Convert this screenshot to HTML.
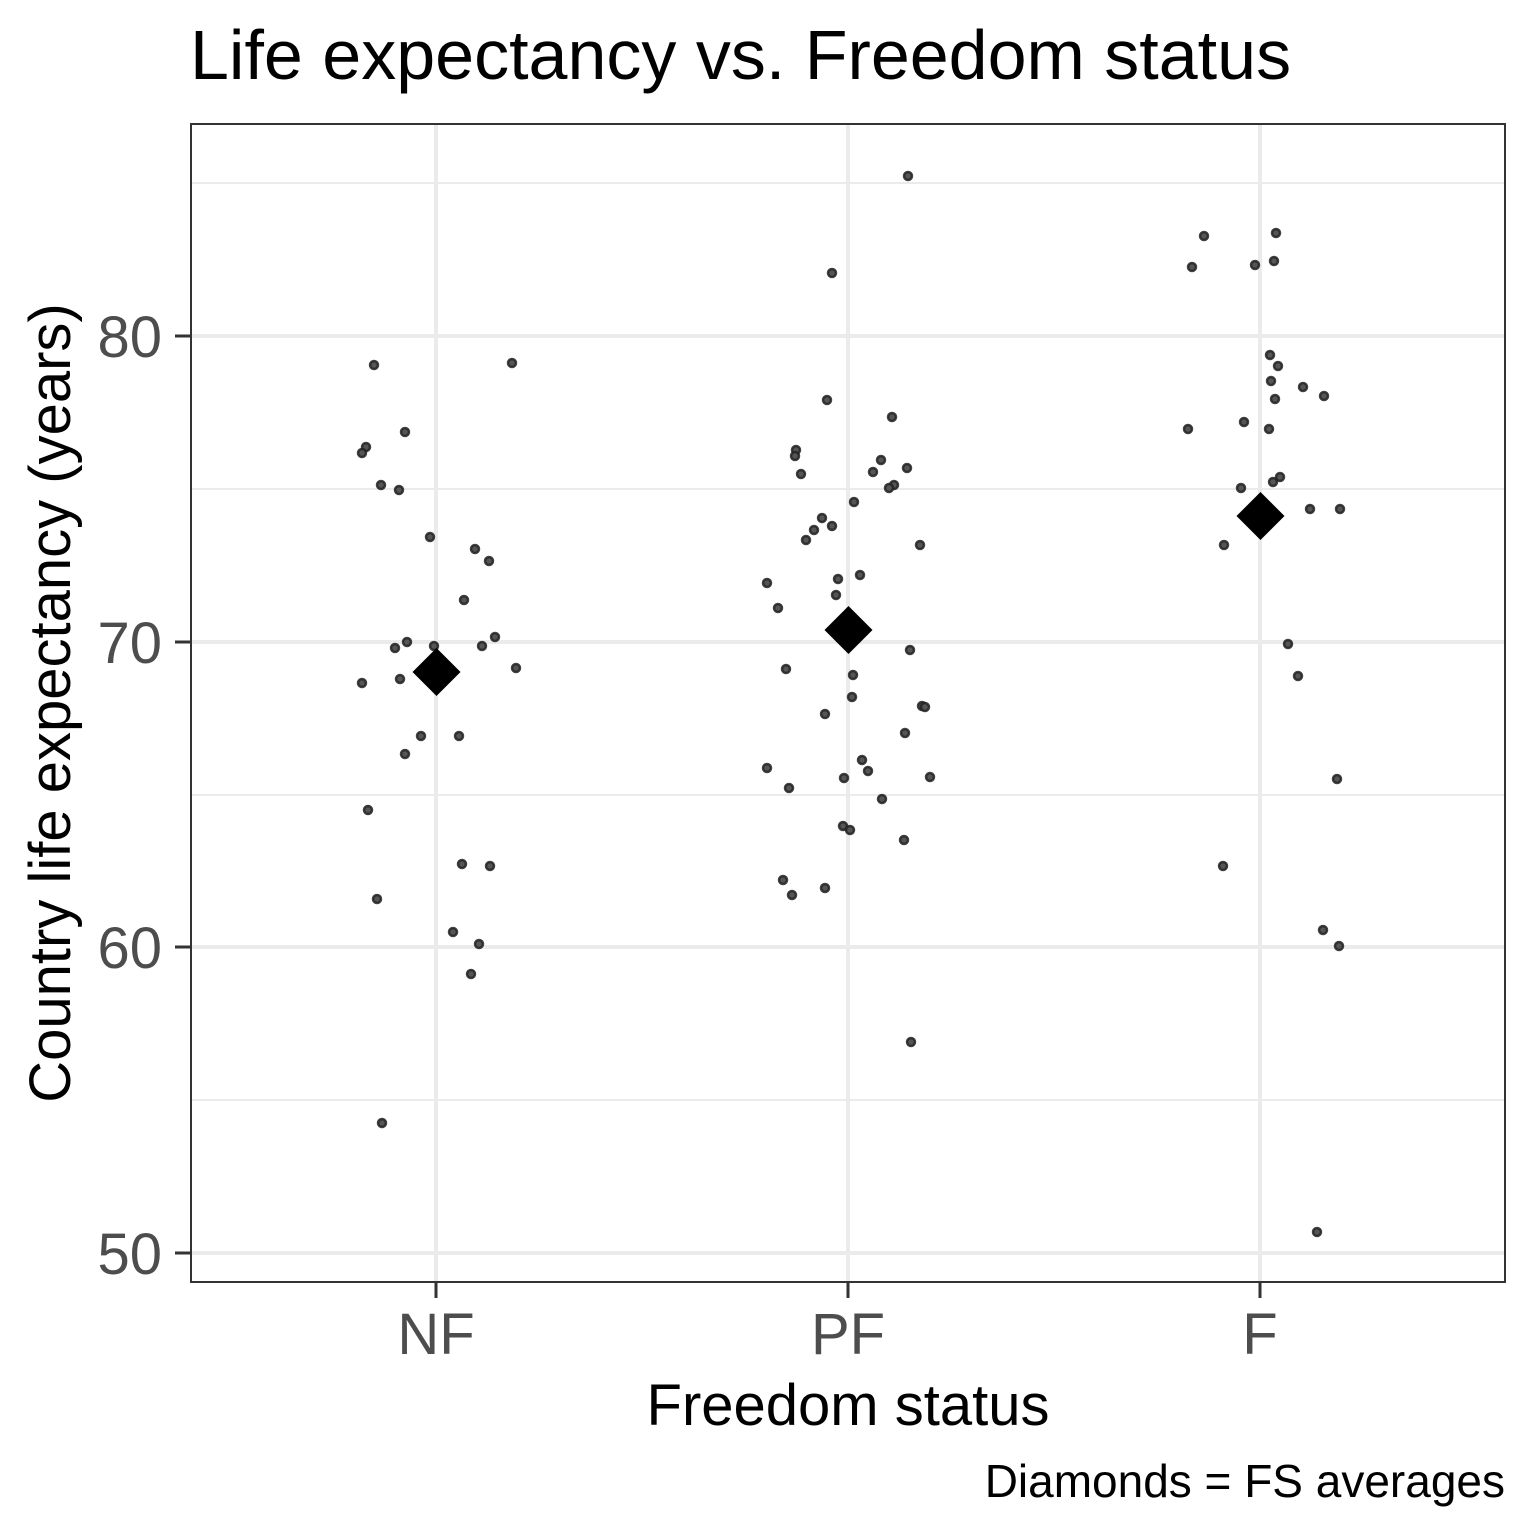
<!DOCTYPE html>
<html><head><style>body{margin:0;background:#fff}svg{display:block}</style></head><body>
<svg width="1536" height="1536" xmlns="http://www.w3.org/2000/svg" font-family="Liberation Sans, Arial, sans-serif">
<rect width="1536" height="1536" fill="#fff"/>
<g stroke="#ebebeb">
<g stroke-width="2">
<line x1="191" x2="1505" y1="183" y2="183"/><line x1="191" x2="1505" y1="489" y2="489"/><line x1="191" x2="1505" y1="795" y2="795"/><line x1="191" x2="1505" y1="1100" y2="1100"/>
</g>
<g stroke-width="4">
<line x1="191" x2="1505" y1="336" y2="336"/><line x1="191" x2="1505" y1="642" y2="642"/><line x1="191" x2="1505" y1="947" y2="947"/><line x1="191" x2="1505" y1="1253" y2="1253"/>
<line y1="124" y2="1282" x1="436" x2="436"/><line y1="124" y2="1282" x1="848" x2="848"/><line y1="124" y2="1282" x1="1260" x2="1260"/>
</g></g>
<g fill="#555" stroke="#222" stroke-opacity="0.85" stroke-width="2.5">
<circle cx="374" cy="365" r="4"/><circle cx="512" cy="363" r="4"/><circle cx="366" cy="447" r="4"/><circle cx="362" cy="453" r="4"/><circle cx="405" cy="432" r="4"/><circle cx="381" cy="485" r="4"/><circle cx="399" cy="490" r="4"/><circle cx="430" cy="537" r="4"/><circle cx="475" cy="549" r="4"/><circle cx="489" cy="561" r="4"/><circle cx="464" cy="600" r="4"/><circle cx="407" cy="642" r="4"/><circle cx="395" cy="648" r="4"/><circle cx="434" cy="646" r="4"/><circle cx="495" cy="637" r="4"/><circle cx="482" cy="646" r="4"/><circle cx="362" cy="683" r="4"/><circle cx="400" cy="679" r="4"/><circle cx="516" cy="668" r="4"/><circle cx="421" cy="736" r="4"/><circle cx="459" cy="736" r="4"/><circle cx="405" cy="754" r="4"/><circle cx="368" cy="810" r="4"/><circle cx="462" cy="864" r="4"/><circle cx="490" cy="866" r="4"/><circle cx="377" cy="899" r="4"/><circle cx="453" cy="932" r="4"/><circle cx="479" cy="944" r="4"/><circle cx="471" cy="974" r="4"/><circle cx="382" cy="1123" r="4"/>
<circle cx="908" cy="176" r="4"/><circle cx="832" cy="273" r="4"/><circle cx="827" cy="400" r="4"/><circle cx="892" cy="417" r="4"/><circle cx="796" cy="450" r="4"/><circle cx="795" cy="456" r="4"/><circle cx="881" cy="460" r="4"/><circle cx="801" cy="474" r="4"/><circle cx="873" cy="472" r="4"/><circle cx="907" cy="468" r="4"/><circle cx="894" cy="485" r="4"/><circle cx="889" cy="488" r="4"/><circle cx="854" cy="502" r="4"/><circle cx="814" cy="530" r="4"/><circle cx="822" cy="518" r="4"/><circle cx="832" cy="526" r="4"/><circle cx="806" cy="540" r="4"/><circle cx="920" cy="545" r="4"/><circle cx="767" cy="583" r="4"/><circle cx="838" cy="579" r="4"/><circle cx="860" cy="575" r="4"/><circle cx="836" cy="595" r="4"/><circle cx="778" cy="608" r="4"/><circle cx="853" cy="675" r="4"/><circle cx="910" cy="650" r="4"/><circle cx="786" cy="669" r="4"/><circle cx="852" cy="697" r="4"/><circle cx="922" cy="706" r="4"/><circle cx="925" cy="707" r="4"/><circle cx="825" cy="714" r="4"/><circle cx="905" cy="733" r="4"/><circle cx="862" cy="760" r="4"/><circle cx="767" cy="768" r="4"/><circle cx="868" cy="771" r="4"/><circle cx="844" cy="778" r="4"/><circle cx="930" cy="777" r="4"/><circle cx="789" cy="788" r="4"/><circle cx="882" cy="799" r="4"/><circle cx="843" cy="826" r="4"/><circle cx="850" cy="830" r="4"/><circle cx="904" cy="840" r="4"/><circle cx="783" cy="880" r="4"/><circle cx="825" cy="888" r="4"/><circle cx="792" cy="895" r="4"/><circle cx="911" cy="1042" r="4"/>
<circle cx="1204" cy="236" r="4"/><circle cx="1276" cy="233" r="4"/><circle cx="1192" cy="267" r="4"/><circle cx="1255" cy="265" r="4"/><circle cx="1274" cy="261" r="4"/><circle cx="1270" cy="355" r="4"/><circle cx="1278" cy="366" r="4"/><circle cx="1271" cy="381" r="4"/><circle cx="1303" cy="387" r="4"/><circle cx="1324" cy="396" r="4"/><circle cx="1275" cy="399" r="4"/><circle cx="1188" cy="429" r="4"/><circle cx="1244" cy="422" r="4"/><circle cx="1269" cy="429" r="4"/><circle cx="1280" cy="477" r="4"/><circle cx="1273" cy="482" r="4"/><circle cx="1241" cy="488" r="4"/><circle cx="1310" cy="509" r="4"/><circle cx="1340" cy="509" r="4"/><circle cx="1224" cy="545" r="4"/><circle cx="1288" cy="644" r="4"/><circle cx="1298" cy="676" r="4"/><circle cx="1337" cy="779" r="4"/><circle cx="1223" cy="866" r="4"/><circle cx="1323" cy="930" r="4"/><circle cx="1339" cy="946" r="4"/><circle cx="1317" cy="1232" r="4"/>
</g>
<g fill="#000">
<polygon points="436.5,648 460.5,672 436.5,696 412.5,672"/>
<polygon points="848.5,606 872.5,630 848.5,654 824.5,630"/>
<polygon points="1260.5,492 1284.5,516 1260.5,540 1236.5,516"/>
</g>
<rect x="191" y="124" width="1314" height="1158" fill="none" stroke="#333" stroke-width="2"/>
<g stroke="#333" stroke-width="3">
<line x1="175" x2="191" y1="336" y2="336"/><line x1="175" x2="191" y1="642" y2="642"/><line x1="175" x2="191" y1="947" y2="947"/><line x1="175" x2="191" y1="1253" y2="1253"/>
<line y1="1282" y2="1298" x1="436" x2="436"/><line y1="1282" y2="1298" x1="848" x2="848"/><line y1="1282" y2="1298" x1="1260" x2="1260"/>
</g>
<g fill="#4d4d4d" font-size="58" text-anchor="end">
<text x="162" y="357">80</text><text x="162" y="663">70</text><text x="162" y="968">60</text><text x="162" y="1274">50</text>
</g>
<g fill="#4d4d4d" font-size="58" text-anchor="middle">
<text x="436" y="1354">NF</text><text x="848" y="1354">PF</text><text x="1260" y="1354">F</text>
</g>
<text x="848" y="1425" font-size="58" text-anchor="middle">Freedom status</text>
<text transform="translate(70,703) rotate(-90)" font-size="58" text-anchor="middle">Country life expectancy (years)</text>
<text x="190" y="79" font-size="70">Life expectancy vs. Freedom status</text>
<text x="1505" y="1497" font-size="46" text-anchor="end">Diamonds = FS averages</text>
</svg>
</body></html>
